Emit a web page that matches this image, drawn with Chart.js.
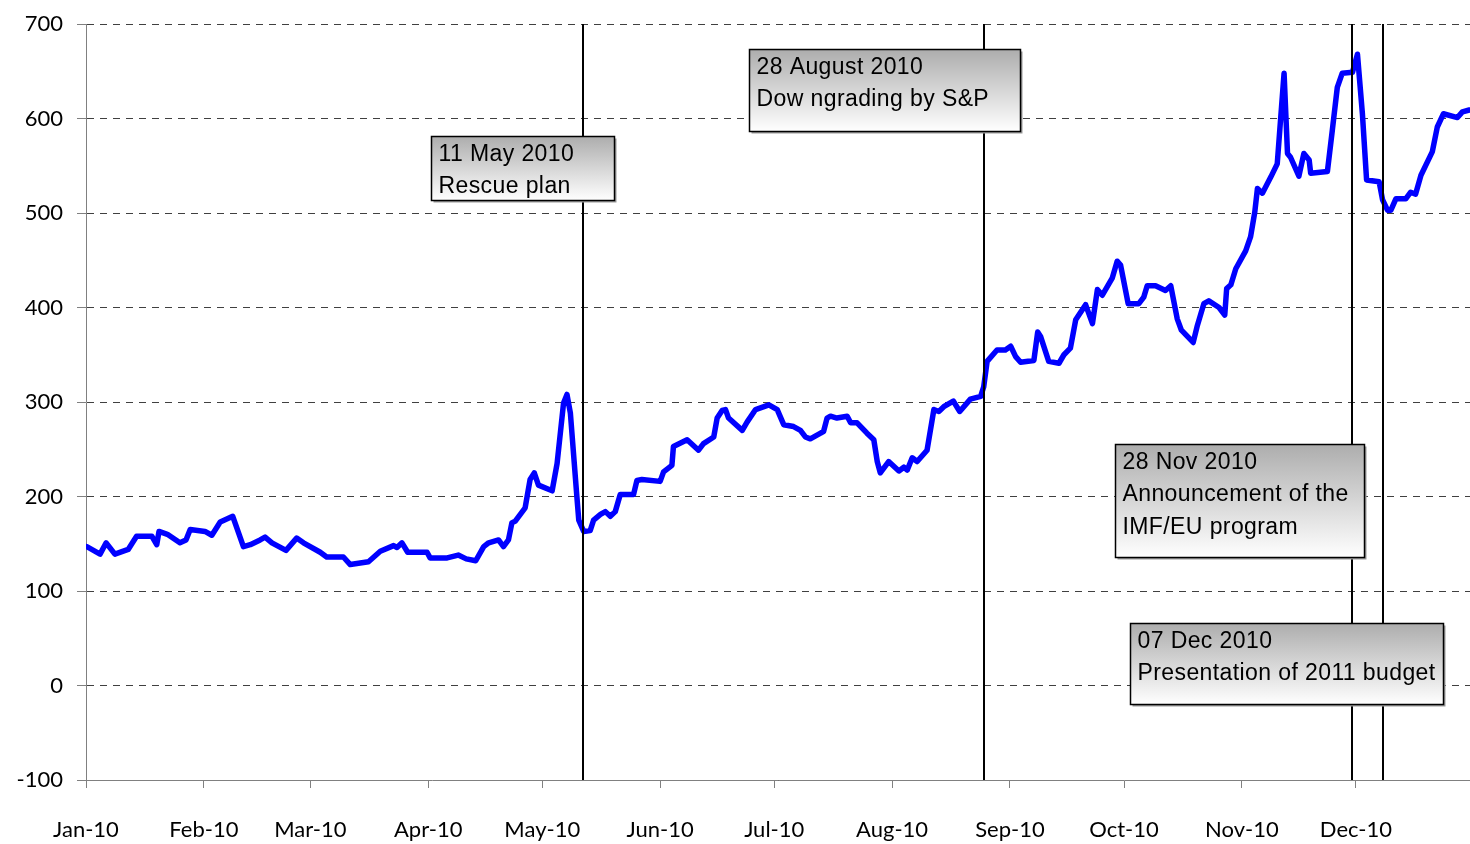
<!DOCTYPE html>
<html><head><meta charset="utf-8">
<script src="https://cdn.jsdelivr.net/npm/chart.js@4.4.1/dist/chart.umd.min.js"></script>
<style>html,body{margin:0;padding:0;background:#fff;}#wrap{width:1470px;height:844px;position:relative;}</style>
</head><body><div id="wrap"><canvas id="c" width="1470" height="844"></canvas></div>
<script>
// ---- data ----
const monthStartDays = [0, 31, 59, 90, 120, 151, 181, 212, 243, 273, 304, 334];
const monthLabels = ['Jan-10','Feb-10','Mar-10','Apr-10','May-10','Jun-10','Jul-10','Aug-10','Sep-10','Oct-10','Nov-10','Dec-10'];
const yTickValues = [-100, 0, 100, 200, 300, 400, 500, 600, 700];

// day of year 2010 (0 = 1 Jan) and spread values (bp)
const dayOfYear = [
  0.2, 3.7, 5.3, 7.6, 11.1, 13.3, 17.3, 18.6, 19.2, 21.4, 24.7, 26.3, 27.4, 31.3, 33.1, 35.3, 38.6, 41.4, 43.2, 45.8,
  47.1, 48.9, 52.6, 55.4, 57.2, 61.6, 63.3, 67.7, 69.5, 74.3, 77.4, 80.9, 81.8, 83.1, 84.6, 89.7, 90.5, 95, 97.9, 100,
  102.5, 104.6, 105.9, 108.5, 109.8, 111.1, 112, 112.9, 115.5, 116.8, 117.9, 119, 122.6, 123.9, 125.6, 126.5, 127.4, 129.1, 129.6, 130.9,
  132.6, 133.5, 135.3, 136.6, 137.9, 139.2, 140.5, 144, 144.9, 146.2, 151, 151.9, 154.1, 154.5, 158.1, 161.1, 162.4, 165.1, 166, 167.3,
  168.2, 169, 172.6, 173.9, 176.1, 179.6, 181.8, 183.5, 186.1, 187.9, 189.2, 190.5, 193.2, 194, 194.9, 195.8, 197.5, 200.2, 201.1, 202.8,
  205.4, 207.2, 208.1, 208.9, 211.1, 213.8, 215.1, 216, 217.3, 218.6, 221.2, 223, 224.3, 225.6, 228.1, 229.8, 232.6, 235.3, 236.1, 237,
  239.6, 241.8, 243.2, 244.5, 245.8, 249.3, 250.3, 251.1, 253.2, 255.9, 257.2, 258.9, 260.3, 262.9, 264.7, 266, 267.3, 269.9, 271.2, 272.1,
  274.1, 276.9, 278.2, 279.1, 281.3, 283.9, 285.3, 287, 288.1, 291.2, 292.3, 294, 295.3, 298, 299.5, 300, 301.1, 302.4, 305, 306.3,
  307.4, 308.1, 309.4, 311.6, 313.3, 315.1, 316, 316.8, 319, 320.3, 321.7, 322.1, 326.5, 327.8, 329.1, 330.4, 333.1, 334.4, 335.7, 336.8,
  340.1, 341, 342.3, 343.2, 344.5, 347.1, 348.4, 349.7, 351.1, 354.1, 355.4, 357, 360.7, 362, 363.8
];
const spreadValues = [
  147, 139, 151, 139, 144, 158, 158, 149, 163, 160, 151, 154, 165, 163, 159, 173, 179, 147, 149, 154,
  157, 151, 143, 156, 151, 141, 136, 136, 128, 131, 142, 148, 146, 151, 141, 141, 135, 135, 138, 134,
  132, 147, 151, 154, 147, 154, 172, 174, 188, 218, 225, 212, 206, 235, 299, 308, 288, 200, 175, 163,
  164, 175, 181, 184, 179, 184, 202, 202, 217, 218, 216, 226, 233, 253, 260, 249, 256, 263, 283, 291,
  292, 283, 270, 279, 292, 297, 292, 276, 274, 270, 263, 261, 267, 269, 283, 285, 283, 285, 278, 278,
  267, 260, 237, 225, 237, 227, 231, 228, 241, 237, 249, 292, 290, 295, 301, 290, 303, 306, 316, 343,
  355, 355, 359, 348, 342, 344, 374, 369, 343, 341, 350, 357, 387, 403, 383, 419, 413, 431, 449, 445,
  404, 404, 411, 423, 423, 418, 423, 388, 376, 363, 381, 404, 407, 400, 392, 420, 424, 441, 460, 475,
  501, 526, 521, 538, 552, 648, 563, 559, 539, 563, 556, 542, 544, 588, 633, 648, 649, 668, 605, 535,
  533, 514, 503, 503, 515, 515, 522, 520, 540, 565, 591, 605, 601, 607, 609
];

// events (vertical lines) and their notes
const eventDays = [130.6, 236.2, 333.0, 341.2];
const noteLines = [
  ['11 May 2010', 'Rescue plan'],
  ['28 August 2010', 'Dow ngrading by S&P'],
  ['28 Nov 2010', 'Announcement of the', 'IMF/EU program'],
  ['07 Dec 2010', 'Presentation of 2011 budget']
];
// note box anchors (top-left, in axis units) and sizes (px)
const noteAnchorDay = [90.7, 174.4, 270.6, 274.6];
const noteAnchorValue = [581.3, 673.3, 255.6, 66.2];
const noteBoxW = [183, 271, 249, 313];
const noteBoxH = [64, 82, 113, 81];

// ---- plugin drawing event lines and notes ----
const notesPlugin = {
  id: 'notes',
  afterDatasetsDraw(chart) {
    const {ctx, chartArea, scales} = chart;
    const xs = scales.x, ys = scales.y;
    ctx.save();
    ctx.strokeStyle = '#000';
    ctx.lineWidth = 2;
    eventDays.forEach(d => {
      const px = Math.round(xs.getPixelForValue(d));
      ctx.beginPath();
      ctx.moveTo(px, chartArea.top);
      ctx.lineTo(px, chartArea.bottom);
      ctx.stroke();
    });
    noteLines.forEach((lines, i) => {
      const x = Math.round(xs.getPixelForValue(noteAnchorDay[i])) + 0.5;
      const y = Math.round(ys.getPixelForValue(noteAnchorValue[i])) + 0.5;
      const w = noteBoxW[i], h = noteBoxH[i];
      ctx.fillStyle = '#9a9a9a';
      ctx.fillRect(x + 2, y + 2, w, h);
      const g = ctx.createLinearGradient(0, y, 0, y + h);
      g.addColorStop(0, '#adadad');
      g.addColorStop(1, '#ffffff');
      ctx.fillStyle = g;
      ctx.fillRect(x, y, w, h);
      ctx.lineWidth = 1.5;
      ctx.strokeStyle = '#000';
      ctx.strokeRect(x, y, w, h);
      ctx.fillStyle = '#000';
      ctx.font = '23px "Liberation Sans", Arial, sans-serif';
      try { ctx.letterSpacing = '0.4px'; } catch (e) {}
      ctx.textAlign = 'left';
      ctx.textBaseline = 'alphabetic';
      lines.forEach((t, k) => {
        ctx.fillText(t, x + 7, y + 24 + k * 32.5);
      });
      try { ctx.letterSpacing = '0px'; } catch (e) {}
    });
    ctx.restore();
  }
};

const axisFont = {family: 'Lato, "Liberation Sans", sans-serif', size: 22};

new Chart(document.getElementById('c'), {
  type: 'line',
  data: {
    datasets: [{
      data: dayOfYear.map((d, i) => ({x: d, y: spreadValues[i]})),
      borderColor: '#0000ff',
      borderWidth: 5.5,
      pointRadius: 0,
      tension: 0,
      borderJoinStyle: 'round',
      borderCapStyle: 'round',
      fill: false
    }]
  },
  options: {
    responsive: false,
    animation: false,
    layout: {padding: {top: 24, left: 0, right: 0, bottom: 0}},
    plugins: {legend: {display: false}, tooltip: {enabled: false}},
    scales: {
      x: {
        type: 'linear',
        min: 0,
        max: 364,
        afterBuildTicks: s => { s.ticks = monthStartDays.map(v => ({value: v})); },
        afterFit: s => { s.height = 64; },
        grid: {display: true, drawOnChartArea: false, drawTicks: true, tickLength: 8, tickColor: '#808080', lineWidth: 1},
        border: {display: true, color: '#808080', width: 1},
        ticks: {
          autoSkip: false, maxRotation: 0, minRotation: 0, padding: 29,
          color: '#000', font: axisFont,
          callback: v => monthLabels[monthStartDays.indexOf(v)]
        }
      },
      y: {
        min: -100,
        max: 700,
        afterBuildTicks: s => { s.ticks = yTickValues.map(v => ({value: v})); },
        afterFit: s => { s.width = 86; },
        grid: {color: '#404040', lineWidth: 1, tickLength: 9, tickColor: '#808080'},
        border: {display: true, color: '#808080', width: 1, dash: [7, 6]},
        ticks: {padding: 14, color: '#000', font: {family: axisFont.family, size: 22, lineHeight: 0.8}}
      }
    }
  },
  plugins: [notesPlugin]
});
</script></body></html>
